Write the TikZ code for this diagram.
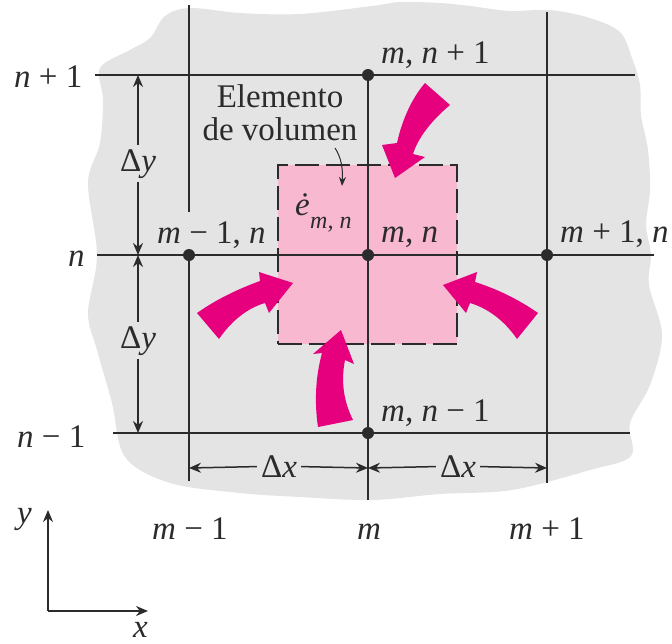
\documentclass[tikz,border=0pt]{standalone}
\usepackage{fontspec}
\setmainfont{Liberation Serif}
\usetikzlibrary{arrows.meta}
\definecolor{ink}{HTML}{2B2B2B}
\definecolor{paper}{HTML}{E4E4E4}
\definecolor{volpink}{HTML}{F8B8D0}
\definecolor{flux}{HTML}{E6007E}

\begin{document}
\begin{tikzpicture}[x=1pt, y=-1pt, font=\fontsize{33}{33}\selectfont, text=ink,
  grid/.style={ink, line width=1.5pt},
  dim/.style={ink, line width=1.5pt, -{Stealth[length=12pt, width=10pt]}},
  dot/.style={circle, fill=ink, inner sep=0pt, minimum size=12pt},
  lbl/.style={anchor=base west, inner sep=0pt},
  dimlbl/.style={anchor=base, inner sep=4pt},
  heat/.style={fill=flux, draw=none}]
  \useasboundingbox (0,0) rectangle (672,643);
  % plate
  \fill[paper] plot[smooth cycle, tension=0.55] coordinates {
    (100,68) (130,50) (150,38) (165,16) (190,8) (240,13) (300,14) (372,6)
    (400,2) (440,3) (470,6) (510,11) (550,10) (590,18) (620,32) (632,58)
    (640,85) (641,115) (648,150) (650,190) (646,225) (651,255) (649,285)
    (662,335) (650,385) (630,423) (631,456) (590,470) (512,490) (440,494)
    (372,500) (300,497) (240,493) (170,483) (125,457) (112,403) (97,350)
    (88,313) (97,255) (88,183) (100,143) (103,100)};
  \node[draw=ink, fill=volpink, line width=1.5pt, dash pattern=on 24pt off 7pt,
    minimum width=179pt, minimum height=179pt, inner sep=0pt] (vol) at (367.5,254.5) {};
  % nodal points
  \node[dot] (top) at (368,75) {};
  \node[dot] (left) at (189,255) {};
  \node[dot] (mid) at (368,255) {};
  \node[dot] (right) at (547,255) {};
  \node[dot] (bot) at (368,433) {};
  % free ends of the grid
  \coordinate (nupL) at (95,75);
  \coordinate (nupR) at (635,75);
  \coordinate (nL) at (97,255);
  \coordinate (nR) at (654,255);
  \coordinate (ndnL) at (113,433);
  \coordinate (ndnR) at (630,433);
  \coordinate (mdnT) at (189,5);
  \coordinate (mdnS) at (189,212);
  \coordinate (mdnB) at (189,481);
  \coordinate (mB) at (368,500);
  \coordinate (mupT) at (547,12);
  \coordinate (mupB) at (547,483);
  \draw[grid] (nupL) -- (nupR);
  \draw[grid] (nL) -- (nR);
  \draw[grid] (ndnL) -- (ndnR);
  \draw[grid] (mdnT) -- (mdnS);
  \draw[grid] (left) -- (mdnB);
  \draw[grid] (top) -- (mB);
  \draw[grid] (mupT) -- (mupB);
  % heat flow arrows
  \fill[heat] (425,83) .. controls (412,98) and (402,120) .. (397,143) -- (382,145)
    -- (395,178) -- (425,157) -- (413,154) .. controls (418,138) and (431,121) .. (450,105) -- cycle;
  \fill[heat] (197,313) .. controls (217,299) and (238,289) .. (260,281) -- (259,272)
    -- (293,283) -- (269,313) -- (265,303) .. controls (248,308) and (232,320) .. (219,339) -- cycle;
  \fill[heat] (538,313) .. controls (518,299) and (497,289) .. (475,282) -- (477,272)
    -- (443,285) -- (466,313) -- (470,303) .. controls (487,308) and (504,320) .. (517,339) -- cycle;
  \fill[heat] (318,427) .. controls (314,400) and (316,375) .. (322,353) -- (313,354)
    -- (341,330) -- (354,364) -- (345,360) .. controls (341,380) and (343,400) .. (353,420) -- cycle;
  % labels
  \node[lbl] (lnup) at (14,87) {\textit{n} + 1};
  \node[lbl] (ln) at (68,266) {\textit{n}};
  \node[lbl] (lndn) at (17,447) {\textit{n} − 1};
  \node[lbl] (ltop) at (381,63) {\textit{m, n} + 1};
  \node[lbl] (lleft) at (157,243) {\textit{m} − 1, \textit{n}};
  \node[lbl] (lmid) at (381,242) {\textit{m, n}};
  \node[lbl] (lright) at (560,242) {\textit{m} + 1, \textit{n}};
  \node[lbl] (lbot) at (381,421) {\textit{m, n} − 1};
  \node[lbl] (lmdn) at (152,539) {\textit{m} − 1};
  \node[lbl] (lm) at (357,539) {\textit{m}};
  \node[lbl] (lmup) at (509,539) {\textit{m} + 1};
  \node[lbl] (ledot) at (295,215) {\textit{ė}};
  \node[lbl, font=\fontsize{24}{24}\selectfont] (lesub) at (310,228) {\textit{m, n}};
  \node[align=center, inner sep=0pt] (lvol) at (280,113) {Elemento\\de volumen};
  % leader
  \coordinate (leadS) at (335,148);
  \coordinate (leadE) at (342,186);
  \draw[ink, line width=1pt, -{Stealth[length=9pt, width=7pt]}] (leadS) .. controls (341,157) and (343,168) .. (leadE);
  % dimensions
  \node[dimlbl] (dy1) at (138,171) {Δ\textit{y}};
  \node[dimlbl] (dy2) at (138,348) {Δ\textit{y}};
  \node[dimlbl] (dx1) at (279,477) {Δ\textit{x}};
  \node[dimlbl] (dx2) at (458,477) {Δ\textit{x}};
  \coordinate (yA) at (138,75);
  \coordinate (yB) at (138,255);
  \coordinate (yC) at (138,433);
  \coordinate (xA) at (189,468);
  \coordinate (xB) at (368,468);
  \coordinate (xC) at (547,468);
  \draw[dim] (dy1) -- (yA);
  \draw[dim] (dy1) -- (yB);
  \draw[dim] (dy2) -- (yB);
  \draw[dim] (dy2) -- (yC);
  \draw[dim] (dx1) -- (xA);
  \draw[dim] (dx1) -- (xB);
  \draw[dim] (dx2) -- (xB);
  \draw[dim] (dx2) -- (xC);
  % axes
  \coordinate (org) at (48,611);
  \coordinate (yend) at (48,510);
  \coordinate (xend) at (148,611);
  \draw[dim] (org) -- (yend);
  \draw[dim] (org) -- (xend);
  \node[lbl] (laxy) at (17,523) {\textit{y}};
  \node[lbl] (laxx) at (133,637) {\textit{x}};
\end{tikzpicture}
\end{document}
